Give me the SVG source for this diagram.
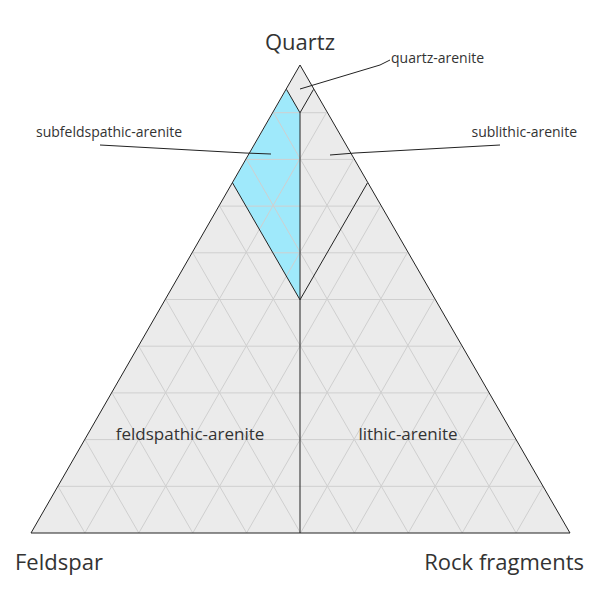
<svg xmlns="http://www.w3.org/2000/svg" width="600" height="600" viewBox="0 0 600 600">
<style>
text{font-family:"Open Sans","Noto Sans",sans-serif;fill:#333}
.g{stroke:#cfcfcf;stroke-width:1;fill:none}
.b{stroke:#222;stroke-width:1;fill:none}
.s{font-size:14px}
.m{font-size:17px}
.l{font-size:22px}
</style>
<rect width="600" height="600" fill="#fff"/>
<g id="triangle">
<polygon points="300,65 31,533 570,533" fill="#ebebeb"/>
<polygon id="subfeldspathic" points="286.5,89.4 300,112.8 300,299.8 232.6,183" fill="#9fe9fb"/>
<g class="g">
<path d="M58,486.3H543M85,439.6H516M112,392.9H489M138.8,346.2H461.2M165.8,299.5H434.2M192.8,252.8H407.2M219.7,206.1H380.3M246.6,159.4H353.4M273.6,112.7H326.4"/>
<path d="M84.9,533L58,486.3M138.8,533L85,439.6M192.8,533L112,392.9M246.6,533L138.8,346.2M300.5,533L165.8,299.5M354.4,533L192.8,252.8M408.3,533L219.7,206.1M462.2,533L246.6,159.4M516.1,533L273.6,112.7"/>
<path d="M516.1,533L543,486.3M462.2,533L516,439.6M408.3,533L489,392.9M354.4,533L461.2,346.2M300.5,533L434.2,299.5M246.6,533L407.2,252.8M192.8,533L380.3,206.1M138.8,533L353.4,159.4M84.9,533L326.4,112.7"/>
</g>
<polygon points="300,65 31,533 570,533" class="b"/>
</g>
<g id="boundaries" class="b">
<path d="M286.5,89.4L300,112.8L313.5,89.4M300,112.8V533M232.6,183L300,299.8L367.4,183"/>
</g>
<g id="connectors" class="b">
<path d="M300,89L380,65L390,60"/>
<path d="M100,145L245,153L271,154"/>
<path d="M330,155L355,153L500,145"/>
</g>
<g id="labels">
<text x="300" y="50" class="l" text-anchor="middle">Quartz</text>
<text x="15" y="570" class="l">Feldspar</text>
<text x="584" y="570" class="l" text-anchor="end">Rock fragments</text>
<text x="391" y="63" class="s">quartz-arenite</text>
<text x="36" y="137" class="s">subfeldspathic-arenite</text>
<text x="577" y="137" class="s" text-anchor="end">sublithic-arenite</text>
<text x="190" y="440" class="m" text-anchor="middle">feldspathic-arenite</text>
<text x="408" y="440" class="m" text-anchor="middle">lithic-arenite</text>
</g>
</svg>
